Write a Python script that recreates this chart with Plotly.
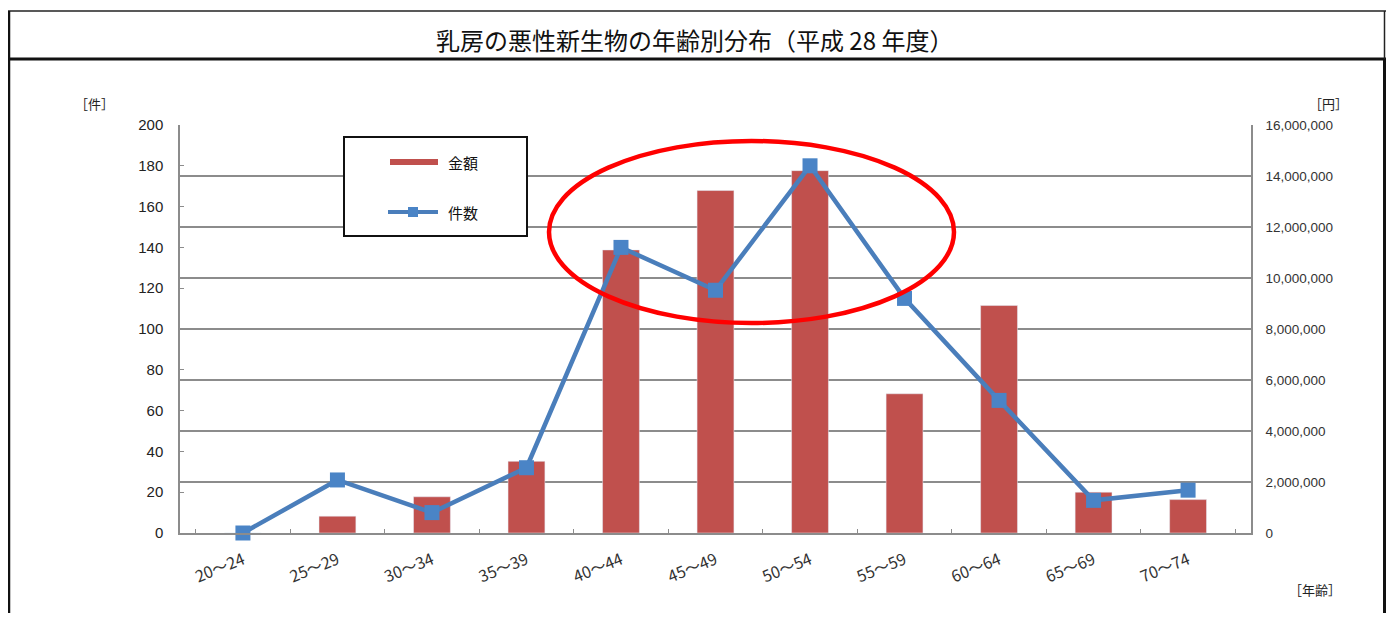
import plotly.graph_objects as go

# age groups and values
ages = ["20～24", "25～29", "30～34", "35～39", "40～44", "45～49",
        "50～54", "55～59", "60～64", "65～69", "70～74"]
amounts = [0, 660000, 1420000, 2810000, 11100000, 13430000,
           14210000, 5460000, 8920000, 1600000, 1310000]
counts = [0, 26, 10, 32, 140, 119, 180, 115, 65, 16, 21]

# the page body keeps an 8px margin on every side, so the figure is
# drawn that much smaller and everything below is placed in screen pixels
OFF = 8
W, H = 1394 - 2 * OFF, 621 - 2 * OFF
# plot area in screen pixels
PL, PR, PT, PB = 180, 1251, 125, 533


# screen pixel -> paper coordinates, for the frame and decorations
def px(x):
    return (x - PL) / (PR - PL)


def py(y):
    return (PB - y) / (PB - PT)


RED = "#C0504D"
BLUE = "#4A7EBB"
GRID = "#8c8c8c"
JP = "Noto Sans CJK JP"

fig = go.Figure()

fig.add_trace(go.Bar(
    x=ages, y=amounts, name="金額", marker_color=RED, yaxis="y",
    showlegend=False,
))
fig.add_trace(go.Scatter(
    x=ages, y=counts, name="件数", yaxis="y2", mode="lines+markers",
    line=dict(color=BLUE, width=4.5),
    marker=dict(symbol="square", size=15, color="#4A84C6"),
    cliponaxis=False, showlegend=False,
))

fig.update_layout(
    width=W, height=H,
    margin=dict(l=PL - OFF, r=W - (PR - OFF), t=PT - OFF, b=H - (PB - OFF)),
    paper_bgcolor="white", plot_bgcolor="white",
    bargap=0.61,
    font=dict(family="Liberation Sans, " + JP, color="#222"),
    xaxis=dict(
        type="category", showline=True, linecolor=GRID, linewidth=1.5,
        ticks="inside", ticklen=4, tickcolor=GRID, tickson="boundaries",
        tickangle=-22, tickfont=dict(size=16, family=JP, color="#333"),
        ticklabelstandoff=10, showgrid=False,
    ),
    yaxis=dict(
        side="right", range=[0, 16000000], dtick=2000000,
        tickformat=",d", showgrid=True, gridcolor=GRID, gridwidth=1.5,
        showline=True, linecolor=GRID, linewidth=1.5, ticks="",
        tickfont=dict(size=13.5, color="#333"), ticklabelstandoff=10,
        zeroline=False,
    ),
    yaxis2=dict(
        overlaying="y", side="left", range=[0, 200], dtick=20,
        showgrid=False, showline=True, linecolor=GRID, linewidth=1.5,
        ticks="inside", ticklen=4, tickcolor=GRID,
        tickfont=dict(size=15, color="#222"), ticklabelstandoff=12,
        zeroline=False,
    ),
)

shapes = []
# outer frame and title row
shapes.append(dict(type="line", xref="paper", yref="paper",
                   x0=px(5), x1=px(1393), y0=py(11), y1=py(11),
                   line=dict(color="#222", width=1.5)))
shapes.append(dict(type="line", xref="paper", yref="paper",
                   x0=px(5), x1=px(1393), y0=py(59), y1=py(59),
                   line=dict(color="#111", width=3)))
shapes.append(dict(type="line", xref="paper", yref="paper",
                   x0=px(9), x1=px(9), y0=py(11), y1=py(625),
                   line=dict(color="#111", width=2.5)))
shapes.append(dict(type="line", xref="paper", yref="paper",
                   x0=px(1384.5), x1=px(1384.5), y0=py(11), y1=py(59),
                   line=dict(color="#222", width=1.5)))
shapes.append(dict(type="line", xref="paper", yref="paper",
                   x0=px(1384.5), x1=px(1384.5), y0=py(59), y1=py(625),
                   line=dict(color="#111", width=3)))

# legend box, drawn like the spreadsheet original
shapes.append(dict(type="rect", xref="paper", yref="paper",
                   x0=px(344), x1=px(527), y0=py(137), y1=py(236),
                   line=dict(color="#111", width=2), fillcolor="white"))
shapes.append(dict(type="line", xref="paper", yref="paper",
                   x0=px(390), x1=px(438), y0=py(162), y1=py(162),
                   line=dict(color=RED, width=6)))
shapes.append(dict(type="line", xref="paper", yref="paper",
                   x0=px(388), x1=px(438), y0=py(212), y1=py(212),
                   line=dict(color=BLUE, width=4)))
shapes.append(dict(type="rect", xref="paper", yref="paper",
                   x0=px(408), x1=px(418), y0=py(207), y1=py(217),
                   line=dict(width=0), fillcolor="#4A84C6"))

# red highlight ellipse
shapes.append(dict(type="circle", xref="paper", yref="paper",
                   x0=px(549), x1=px(954), y0=py(141), y1=py(323),
                   line=dict(color="#FF0000", width=4.5)))

fig.update_layout(shapes=shapes)

annotations = [
    dict(text="乳房の悪性新生物の年齢別分布（平成 28 年度）",
         x=px(694), y=py(39), font=dict(size=24, family=JP, color="#111")),
    dict(text="［件］", x=px(94), y=py(104), font=dict(size=13, family=JP)),
    dict(text="［円］", x=px(1328), y=py(104), font=dict(size=13, family=JP)),
    dict(text="［年齢］", x=px(1315), y=py(589), font=dict(size=13, family=JP)),
    dict(text="金額", x=px(446), y=py(162), xanchor="left",
         font=dict(size=15, family=JP, color="#111")),
    dict(text="件数", x=px(446), y=py(212), xanchor="left",
         font=dict(size=15, family=JP, color="#111")),
]
for a in annotations:
    a.setdefault("xanchor", "center")
    a.update(xref="paper", yref="paper", yanchor="middle", showarrow=False)
fig.update_layout(annotations=annotations)

fig.write_html("out.html")
